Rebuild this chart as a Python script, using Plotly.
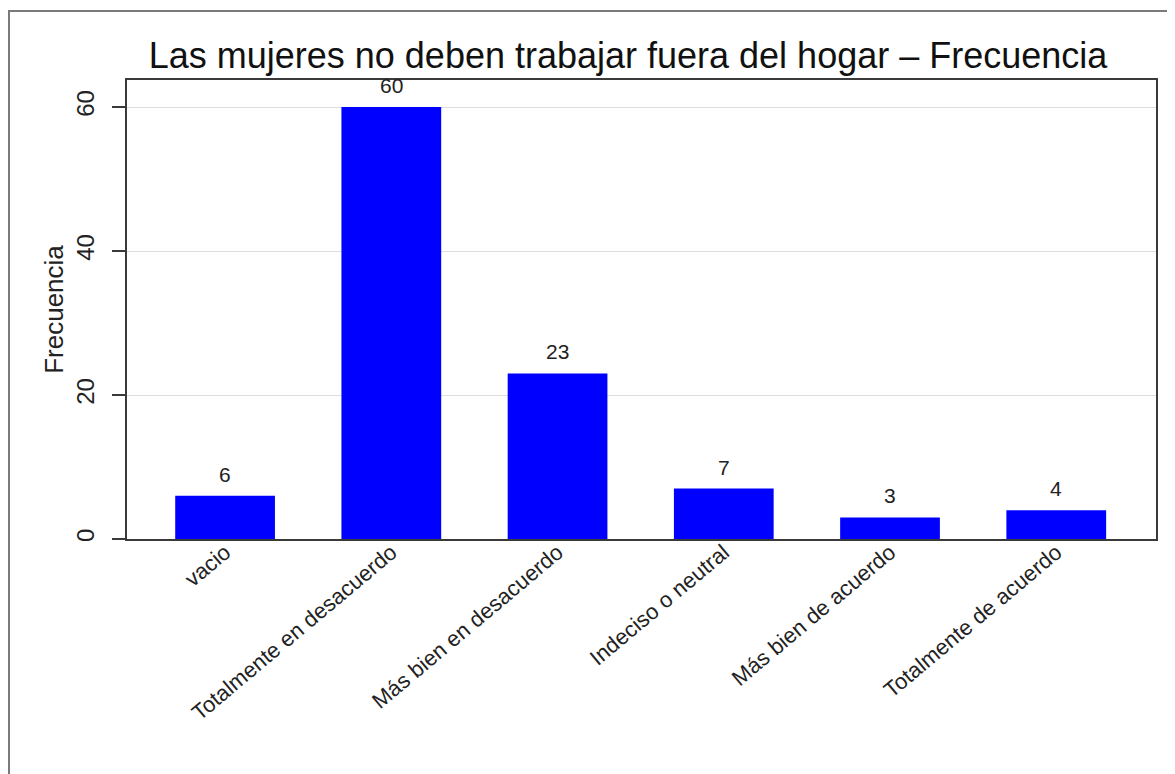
import plotly.graph_objects as go

categories = ["vacio", "Totalmente en desacuerdo", "Más bien en desacuerdo",
              "Indeciso o neutral", "Más bien de acuerdo", "Totalmente de acuerdo"]
values = [6, 60, 23, 7, 3, 4]
y_ticks = [0, 20, 40, 60]

OFF = 8  # browser body margin
W, H = 1175 - OFF, 774 - OFF
L, R, T, B = 127 - OFF, 1156 - OFF, 80 - OFF, 539 - OFF  # plot area pixel box (figure coords)

def px_x(p):
    return (p - OFF - L) / (R - L)

def px_y(p):
    return (B - (p - OFF)) / (B - T)

FONT = "Liberation Sans, Arial, sans-serif"

fig = go.Figure()
fig.add_trace(go.Bar(
    x=list(range(len(categories))), y=values,
    width=0.6, marker=dict(color="#0000ff", line=dict(width=0)),
    hoverinfo="skip",
))

for i, v in enumerate(values):
    fig.add_annotation(x=i, y=v, text=str(v), showarrow=False,
                       yanchor="bottom", yshift=8,
                       font=dict(family=FONT, size=21, color="#222"))

fig.update_layout(
    width=W, height=H,
    margin=dict(l=L, r=W - R, t=T, b=H - B, autoexpand=False),
    paper_bgcolor="white", plot_bgcolor="white",
    showlegend=False,
    bargap=0.4,
    title=dict(text="Las mujeres no deben trabajar fuera del hogar – Frecuencia",
               x=(628 - OFF) / W, xanchor="center", y=1 - (55 - OFF) / H, yanchor="middle",
               font=dict(family=FONT, size=36, color="#111")),
    font=dict(family=FONT, color="#222"),
)

fig.update_xaxes(
    range=[-0.59, 5.6], automargin=False,
    tickmode="array", tickvals=list(range(len(categories))), ticktext=categories,
    tickangle=-40, ticks="", tickfont=dict(size=22, color="#222"),
    ticklabelstandoff=-10,
    showline=True, linecolor="#3a3a3a", linewidth=2, mirror=True,
    showgrid=False, zeroline=False,
)

fig.update_yaxes(
    range=[0, 63.75], automargin=False,
    tickmode="array", tickvals=y_ticks, ticktext=[str(t) for t in y_ticks],
    tickangle=-90, ticks="outside", ticklen=13, tickwidth=1.5, tickcolor="#3a3a3a",
    tickfont=dict(size=24, color="#222"), ticklabelstandoff=8,
    showline=True, linecolor="#3a3a3a", linewidth=2, mirror=True,
    showgrid=True, gridcolor="#dedede", gridwidth=1, zeroline=False,
    title=dict(text="Frecuencia", font=dict(size=26, color="#222"), standoff=1),
)

# outer frame of the graph region
fig.add_shape(type="rect", xref="paper", yref="paper",
              x0=px_x(9), x1=px_x(1200), y0=px_y(11), y1=px_y(800),
              line=dict(color="#7a7a7a", width=2), fillcolor="rgba(0,0,0,0)",
              layer="below")

fig.write_html("out.html")
